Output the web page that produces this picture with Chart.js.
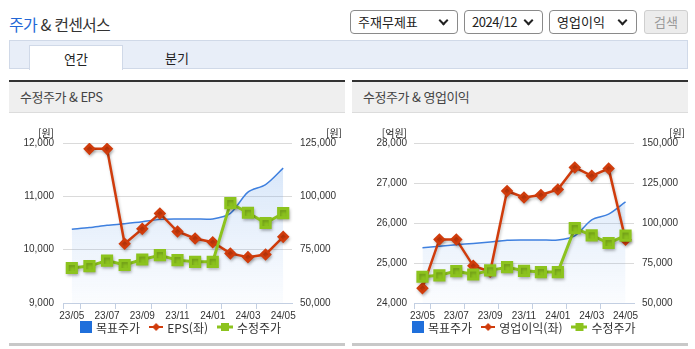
<!DOCTYPE html>
<html lang="ko">
<head>
<meta charset="utf-8">
<title>주가 &amp; 컨센서스</title>
<script src="https://cdn.jsdelivr.net/npm/chart.js@4.4.1/dist/chart.umd.min.js"></script>
<style>
  body { margin: 0; width: 695px; height: 349px; background: #fff; position: relative; overflow: hidden;
         font-family: "Noto Sans CJK KR", "Noto Sans", sans-serif; color: #333; }
  .title { position: absolute; left: 9px; top: 13px; font-size: 16px; letter-spacing: -0.8px; color: #333; line-height: 22px; }
  .title .hl { color: #2367d6; }
  .sel { position: absolute; top: 10px; height: 24px; border: 1px solid #8a8a8a; border-radius: 4px; box-sizing: border-box;
         font-size: 13px; line-height: 21px; padding-left: 7px; color: #222; background: #fff; }
  .sel.num { letter-spacing: -0.5px; }
  .sel::after { content: ""; position: absolute; right: 10px; top: 6px; width: 5px; height: 5px;
                border-right: 2px solid #222; border-bottom: 2px solid #222; transform: rotate(45deg); }
  .btn { position: absolute; left: 644px; top: 10px; width: 44px; height: 24px; box-sizing: border-box; border: 1px solid #cfcfcf;
         border-radius: 3px; background: #ececec; color: #9a9a9a; font-size: 13px; line-height: 21px; text-align: center; }
  .tabs { position: absolute; left: 9px; top: 40px; width: 679px; height: 29px; box-sizing: border-box;
          background: #e8eef8; border: 1px solid #d0d9e8; }
  .tab { position: absolute; top: 4px; height: 24px; width: 92px; text-align: center; font-size: 13px; line-height: 25px; color: #222; }
  .tab.on { left: 19px; background: #fff; border: 1px solid #d0d9e8; border-bottom: none; }
  .tab.off { left: 121px; }
  .panel { position: absolute; top: 80px; width: 336px; height: 261px; border-top: 2px solid #333; border-bottom: 3px solid #c8c8c8; }
  .panel .head { height: 30px; background: #efefef; border-bottom: 1px solid #dcdcdc; font-size: 13px; letter-spacing: -0.5px;
                 color: #444; padding-left: 11px; line-height: 30px; }
  .panel canvas { display: block; }
</style>
</head>
<body>
<div class="title"><span class="hl">주가</span> &amp; 컨센서스</div>
<div class="sel" style="left:350px;width:108px">주재무제표</div>
<div class="sel num" style="left:464px;width:79px">2024/12</div>
<div class="sel" style="left:549px;width:88px">영업이익</div>
<div class="btn">검색</div>
<div class="tabs">
  <div class="tab on">연간</div>
  <div class="tab off">분기</div>
</div>

<div class="panel" style="left:9px">
  <div class="head">수정주가 &amp; EPS</div>
  <canvas id="epsChart" width="336" height="230"></canvas>
</div>
<div class="panel" style="left:352px">
  <div class="head">수정주가 &amp; 영업이익</div>
  <canvas id="opChart" width="336" height="230"></canvas>
</div>

<script>
// monthly points, 2023/05 ~ 2024/05
const months = ['23/05', '23/06', '23/07', '23/08', '23/09', '23/10', '23/11', '23/12', '24/01', '24/02', '24/03', '24/04', '24/05'];
const targetPrice = [84600, 85400, 86400, 87200, 88100, 89200, 89400, 89400, 89400, 92000, 102000, 105500, 113200];
const adjPrice = [66400, 67300, 69900, 67800, 70400, 72400, 70100, 69300, 69300, 96800, 92300, 87500, 92100];
const eps = [null, 11890, 11890, 10110, 10390, 10680, 10340, 10210, 10140, 9930, 9860, 9910, 10240];
const opProfit = [24370, 25590, 25590, 24930, 24780, 26800, 26640, 26700, 26840, 27390, 27180, 27360, 25580];

// axis ranges
const epsAxis = [9000, 10000, 11000, 12000];
const epsPriceAxis = [50000, 75000, 100000, 125000];
const opAxis = [24000, 25000, 26000, 27000, 28000];
const opPriceAxis = [50000, 75000, 100000, 125000, 150000];

const KR_FONT = '"Noto Sans CJK KR", "Noto Sans", sans-serif';
const NUM_FONT = '"Liberation Sans Narrow", "Liberation Sans", Arial, sans-serif';
const BLUE = '#3f80df';
const RED = '#d03c0c';
const GREEN = '#8cc31e';

Chart.defaults.font.family = KR_FONT;
Chart.defaults.color = '#333';

function icon(w, h, draw) {
  const c = document.createElement('canvas');
  c.width = w; c.height = h;
  draw(c.getContext('2d'), w, h);
  return c;
}
const blueIcon = icon(12, 12, (g) => { g.fillStyle = '#1f6fdb'; g.fillRect(0, 0, 12, 12); });
const redIcon = icon(14, 10, (g) => {
  g.strokeStyle = RED; g.lineWidth = 2;
  g.beginPath(); g.moveTo(0, 5); g.lineTo(14, 5); g.stroke();
  g.fillStyle = RED; g.beginPath();
  g.moveTo(7, 1); g.lineTo(11, 5); g.lineTo(7, 9); g.lineTo(3, 5); g.closePath(); g.fill();
});
const greenIcon = icon(16, 10, (g) => {
  g.strokeStyle = GREEN; g.lineWidth = 3;
  g.beginPath(); g.moveTo(0, 5); g.lineTo(16, 5); g.stroke();
  g.fillStyle = GREEN; g.fillRect(4, 1, 8, 8);
});

// "[원]" style unit captions above both value axes
const unitLabels = {
  id: 'unitLabels',
  afterDraw(chart, args, opts) {
    const { ctx } = chart;
    const yl = chart.scales.y, yr = chart.scales.y1;
    ctx.save();
    ctx.font = '10px ' + KR_FONT;
    ctx.fillStyle = '#222';
    ctx.textBaseline = 'middle';
    ctx.textAlign = 'right';
    ctx.fillText(opts.left, yl.right - yl.options.ticks.padding, yl.top - 10);
    ctx.fillText(opts.right, chart.width - 3, yr.top - 10);
    ctx.restore();
  }
};

// legend row under the axis: icon + name per dataset, centred
const bottomLegend = {
  id: 'bottomLegend',
  afterDraw(chart, args, opts) {
    const { ctx } = chart;
    ctx.save();
    ctx.font = '12px ' + KR_FONT;
    const items = chart.data.datasets.map((ds) => ({ icon: ds.legendIcon, text: ds.label }));
    let total = 0;
    items.forEach((it) => {
      it.w = it.icon.width + opts.iconGap + ctx.measureText(it.text).width;
      total += it.w;
    });
    total += opts.itemGap * (items.length - 1);
    let x = Math.round(opts.centerX - total / 2);
    ctx.textBaseline = 'middle';
    ctx.fillStyle = '#333';
    items.forEach((it) => {
      ctx.drawImage(it.icon, x, Math.round(opts.y - it.icon.height / 2));
      ctx.fillText(it.text, x + it.icon.width + opts.iconGap, opts.y + 1);
      x += it.w + opts.itemGap;
    });
    ctx.restore();
  }
};

// soft drop shadow under the marker lines
const lineShadow = {
  id: 'lineShadow',
  beforeDatasetDraw(chart, args) {
    if (!chart.data.datasets[args.index].shadow) return;
    const ctx = chart.ctx;
    ctx.save();
    ctx.shadowColor = 'rgba(0,0,0,0.22)';
    ctx.shadowBlur = 3;
    ctx.shadowOffsetX = 1;
    ctx.shadowOffsetY = 2;
  },
  afterDatasetDraw(chart, args) {
    if (chart.data.datasets[args.index].shadow) chart.ctx.restore();
  }
};

function areaFill(c) {
  const a = c.chart.chartArea;
  if (!a) return 'rgba(0,0,0,0)';
  const g = c.chart.ctx.createLinearGradient(0, a.top, 0, a.bottom);
  g.addColorStop(0, 'rgba(120,170,235,0.32)');
  g.addColorStop(1, 'rgba(120,170,235,0.03)');
  return g;
}

function buildChart(id, cfg) {
  const fmt = (v) => v.toLocaleString('en-US');
  const datasets = [
    {
      label: '목표주가', data: targetPrice, yAxisID: 'y1', order: 3,
      borderColor: BLUE, borderWidth: 1.5, tension: 0.3,
      fill: 'start', backgroundColor: areaFill,
      pointRadius: 0, legendIcon: blueIcon
    },
    {
      label: cfg.lineLabel, data: cfg.values, yAxisID: 'y', order: 2, shadow: true,
      borderColor: RED, borderWidth: 2.5, tension: 0,
      pointStyle: 'rectRot', pointRadius: 4.5, pointBackgroundColor: RED, pointBorderColor: RED,
      legendIcon: redIcon
    },
    {
      label: '수정주가', data: adjPrice, yAxisID: 'y1', order: 1, shadow: true,
      borderColor: GREEN, borderWidth: 3, tension: 0,
      pointStyle: 'rect', pointRadius: 6.5, pointBackgroundColor: GREEN, pointBorderColor: GREEN,
      legendIcon: greenIcon
    }
  ];

  return new Chart(document.getElementById(id), {
    type: 'line',
    data: { labels: months, datasets },
    plugins: [unitLabels, lineShadow, bottomLegend],
    options: {
      responsive: false,
      animation: false,
      devicePixelRatio: 1,
      layout: { padding: { top: 30, left: 0, right: 0, bottom: 0 } },
      scales: {
        x: {
          type: 'category',
          offset: true,
          afterFit: (s) => { s.height = 40; },
          grid: {
            offset: true, drawOnChartArea: false, drawTicks: true, tickLength: 6,
            color: (c) => (c.index === 0 || c.index % 2 === 1) ? '#c3cfe2' : 'rgba(0,0,0,0)'
          },
          border: { color: '#c3cfe2' },
          ticks: {
            autoSkip: false, maxRotation: 0, padding: 1, color: '#333',
            font: { family: NUM_FONT, size: 10 },
            callback: (v, i) => (i % 2 === 0 ? months[i] : '')
          }
        },
        y: {
          position: 'left',
          min: cfg.leftAxis[0], max: cfg.leftAxis[cfg.leftAxis.length - 1],
          afterFit: (s) => { s.width = cfg.leftWidth; },
          grid: { color: '#dadada', drawTicks: false },
          border: { display: false },
          ticks: {
            stepSize: cfg.leftAxis[1] - cfg.leftAxis[0], padding: cfg.leftPad, color: '#333',
            font: { family: NUM_FONT, size: 10 }, callback: fmt
          }
        },
        y1: {
          position: 'right',
          min: cfg.rightAxis[0], max: cfg.rightAxis[cfg.rightAxis.length - 1],
          afterFit: (s) => { s.width = cfg.rightWidth; },
          grid: { display: false, drawTicks: false },
          border: { display: false },
          ticks: {
            stepSize: cfg.rightAxis[1] - cfg.rightAxis[0], padding: 8, color: '#333',
            font: { family: NUM_FONT, size: 10 }, callback: fmt
          }
        }
      },
      plugins: {
        tooltip: { enabled: false },
        legend: { display: false },
        unitLabels: { left: cfg.leftUnit, right: '[원]' },
        bottomLegend: { centerX: 172, y: 214, iconGap: 4, itemGap: 9 }
      }
    }
  });
}

buildChart('epsChart', {
  lineLabel: 'EPS(좌)', values: eps,
  leftAxis: epsAxis, rightAxis: epsPriceAxis, leftUnit: '[원]',
  leftWidth: 54, leftPad: 9, rightWidth: 53
});
buildChart('opChart', {
  lineLabel: '영업이익(좌)', values: opProfit,
  leftAxis: opAxis, rightAxis: opPriceAxis, leftUnit: '[억원]',
  leftWidth: 62, leftPad: 7, rightWidth: 54
});
</script>
</body>
</html>
